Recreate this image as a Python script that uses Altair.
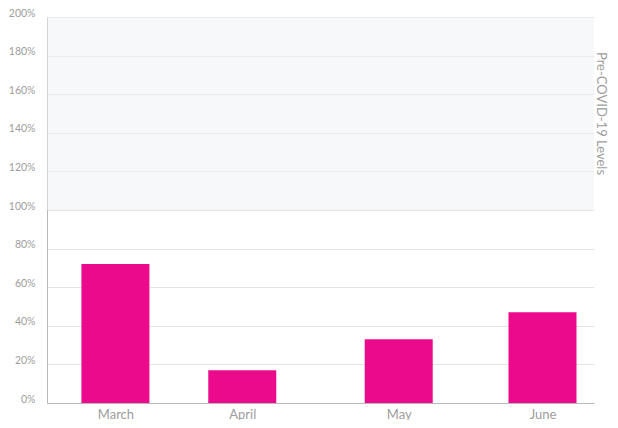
import altair as alt
import pandas as pd

months = ["March", "April", "May", "June"]
dates = ["2020-03-14", "2020-04-13", "2020-05-20", "2020-06-23"]
levels = [0.72, 0.17, 0.33, 0.47]
band_low = [1.0]
band_high = [2.0]
band_label = ["Pre-COVID-19 Levels"]
y_ticks = [0, 0.2, 0.4, 0.6, 0.8, 1.0, 1.2, 1.4, 1.6, 1.8, 2.0]

df = pd.DataFrame({"month": months, "date": dates, "level": levels})
band = pd.DataFrame({"lo": band_low, "hi": band_high, "label": band_label,
                     "mid": [(a + b) / 2 for a, b in zip(band_low, band_high)]})

W, H = 547, 386
FONT = "Lato"
GRAY = "#9d9d9d"

x_dom = [alt.DateTime(year=2020, month=2, date=28, utc=True),
         alt.DateTime(year=2020, month=7, date=4, utc=True)]
x_vals = [alt.DateTime(year=int(d[:4]), month=int(d[5:7]), date=int(d[8:]), utc=True) for d in dates]

yscale = alt.Scale(domain=[0, 2], nice=False)


def y_axis():
    return alt.Axis(values=y_ticks, format=".0%", title=None, grid=True,
                    gridColor="#e4e4e4", ticks=False, domain=True,
                    domainColor="#b8b8b8", labelColor=GRAY, labelFont=FONT,
                    labelFontSize=10.5, labelAlign="right",
                    labelBaseline="alphabetic", labelOffset=-1,
                    labelPadding=12, labelOverlap=False, labelBound=False)


band_layer = alt.Chart(band).mark_rect(color="#eff1f5", opacity=0.5).encode(
    y=alt.Y("lo:Q", scale=yscale, axis=y_axis()),
    y2="hi:Q",
    x=alt.value(0),
    x2=alt.value(W),
)

bars = alt.Chart(df).mark_bar(color="#EB0A8C", size=68).encode(
    x=alt.X("date:T", scale=alt.Scale(type="utc", domain=x_dom),
            axis=alt.Axis(values=x_vals, format="%B", title=None, grid=False,
                          ticks=False, domain=True, domainColor="#b8b8b8",
                          labelColor=GRAY, labelFont=FONT, labelFontSize=13,
                          labelPadding=5, labelOverlap=False)),
    y=alt.Y("level:Q", scale=yscale, axis=y_axis()),
)

label = alt.Chart(band).mark_text(angle=90, align="center", baseline="middle",
                                  font=FONT, fontSize=13, color=GRAY).encode(
    y=alt.Y("mid:Q", scale=yscale, axis=y_axis()),
    x=alt.value(W + 7),
    text="label:N",
)

chart = alt.layer(band_layer, bars, label).properties(
    width=W, height=H,
    autosize=alt.AutoSizeParams(type="none"),
    padding={"left": 39, "top": 9, "right": 16, "bottom": 17},
).configure_view(stroke=None)

chart.save("out.html", embed_options={"renderer": "svg", "actions": False})
